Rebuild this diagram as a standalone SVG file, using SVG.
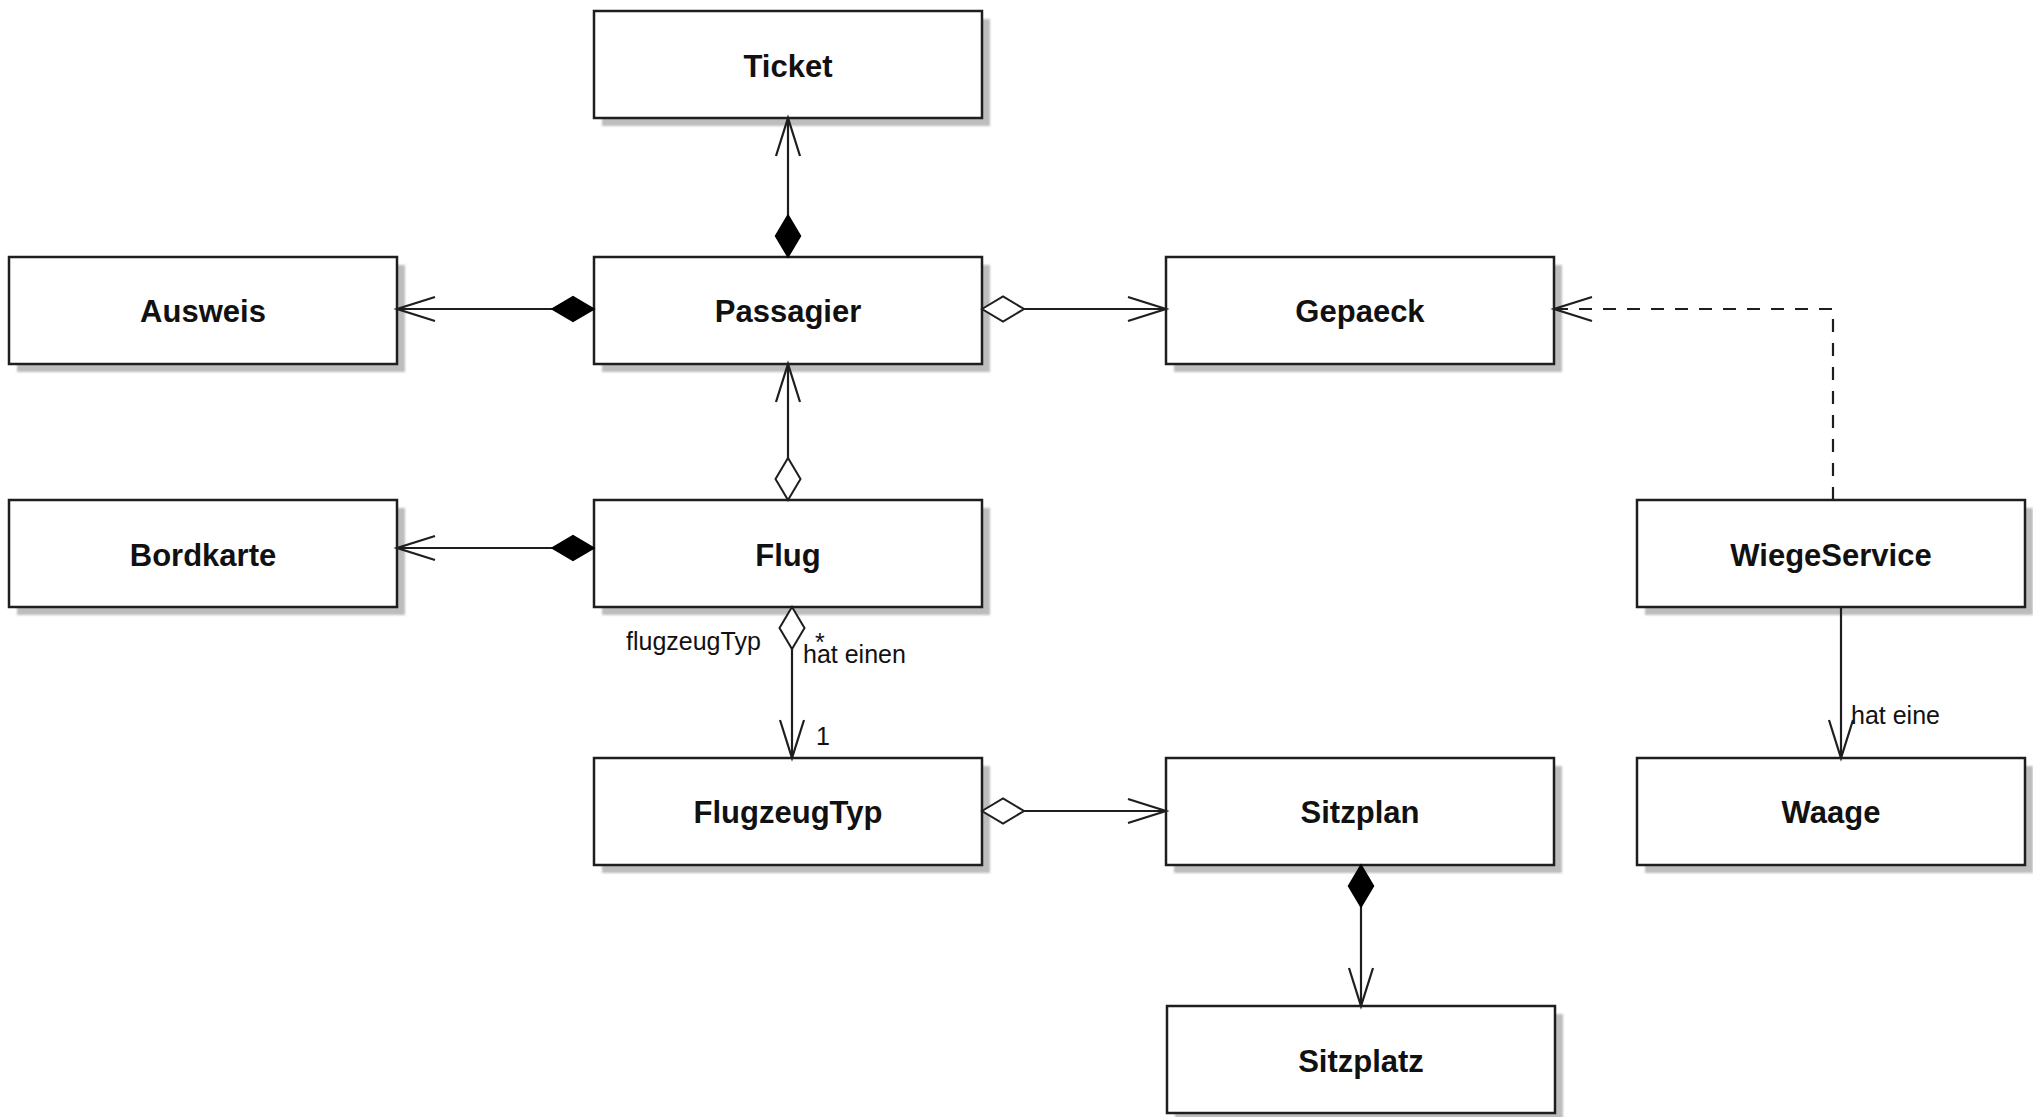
<svg xmlns="http://www.w3.org/2000/svg" width="2033" height="1117" viewBox="0 0 2033 1117">
  <style>
    .shadow { fill: #bdbdbd; filter: url(#soft); }
    .box { fill: #ffffff; stroke: #1e1e1e; stroke-width: 2.5; }
    .name { font-family: "Liberation Sans", Arial, sans-serif; font-size: 31px; font-weight: bold; fill: #111; text-anchor: middle; }
    .edge { fill: none; stroke: #1e1e1e; stroke-width: 2.2; }
    .dashed { stroke-dasharray: 13 11; }
    .lbl { font-family: "Liberation Sans", Arial, sans-serif; font-size: 25px; fill: #111; }
    .assoc-in { marker-end: url(#openArrow); }
    .comp { marker-start: url(#fullDiamond); }
    .aggr { marker-start: url(#hollowDiamond); }
  </style>
  <defs>
    <filter id="soft" x="-5%" y="-5%" width="110%" height="110%">
      <feGaussianBlur stdDeviation="1"/>
    </filter>
    <marker id="openArrow" viewBox="-42 -16 46 32" refX="0" refY="0" markerWidth="46" markerHeight="32" markerUnits="userSpaceOnUse" orient="auto" overflow="visible">
      <path d="M-38,-12 L0,0 L-38,12" fill="none" stroke="#1e1e1e" stroke-width="2.2" stroke-dasharray="none"/>
    </marker>
    <marker id="fullDiamond" viewBox="-2 -15 46 30" refX="0" refY="0" markerWidth="46" markerHeight="30" markerUnits="userSpaceOnUse" orient="auto" overflow="visible">
      <path d="M0,0 L21,-12.5 L42,0 L21,12.5 Z" fill="#000" stroke="#000" stroke-width="1.5"/>
    </marker>
    <marker id="hollowDiamond" viewBox="-2 -15 46 30" refX="0" refY="0" markerWidth="46" markerHeight="30" markerUnits="userSpaceOnUse" orient="auto" overflow="visible">
      <path d="M0,0 L21,-12.5 L42,0 L21,12.5 Z" fill="#fff" stroke="#1e1e1e" stroke-width="2"/>
    </marker>
  </defs>

  <rect width="2033" height="1117" fill="#ffffff"/>

  <!-- classes -->
  <g id="node-ticket">
    <rect class="shadow" x="602" y="19" width="388" height="107"/>
    <rect class="box" x="594" y="11" width="388" height="107"/>
    <text class="name" x="788" y="77">Ticket</text>
  </g>
  <g id="node-passagier">
    <rect class="shadow" x="602" y="265" width="388" height="107"/>
    <rect class="box" x="594" y="257" width="388" height="107"/>
    <text class="name" x="788" y="322">Passagier</text>
  </g>
  <g id="node-ausweis">
    <rect class="shadow" x="17" y="265" width="388" height="107"/>
    <rect class="box" x="9" y="257" width="388" height="107"/>
    <text class="name" x="203" y="322">Ausweis</text>
  </g>
  <g id="node-gepaeck">
    <rect class="shadow" x="1174" y="265" width="388" height="107"/>
    <rect class="box" x="1166" y="257" width="388" height="107"/>
    <text class="name" x="1360" y="322">Gepaeck</text>
  </g>
  <g id="node-bordkarte">
    <rect class="shadow" x="17" y="508" width="388" height="107"/>
    <rect class="box" x="9" y="500" width="388" height="107"/>
    <text class="name" x="203" y="566">Bordkarte</text>
  </g>
  <g id="node-flug">
    <rect class="shadow" x="602" y="508" width="388" height="107"/>
    <rect class="box" x="594" y="500" width="388" height="107"/>
    <text class="name" x="788" y="566">Flug</text>
  </g>
  <g id="node-wiegeservice">
    <rect class="shadow" x="1645" y="508" width="388" height="107"/>
    <rect class="box" x="1637" y="500" width="388" height="107"/>
    <text class="name" x="1831" y="566">WiegeService</text>
  </g>
  <g id="node-flugzeugtyp">
    <rect class="shadow" x="602" y="766" width="388" height="107"/>
    <rect class="box" x="594" y="758" width="388" height="107"/>
    <text class="name" x="788" y="823">FlugzeugTyp</text>
  </g>
  <g id="node-sitzplan">
    <rect class="shadow" x="1174" y="766" width="388" height="107"/>
    <rect class="box" x="1166" y="758" width="388" height="107"/>
    <text class="name" x="1360" y="823">Sitzplan</text>
  </g>
  <g id="node-waage">
    <rect class="shadow" x="1645" y="766" width="388" height="107"/>
    <rect class="box" x="1637" y="758" width="388" height="107"/>
    <text class="name" x="1831" y="823">Waage</text>
  </g>
  <g id="node-sitzplatz">
    <rect class="shadow" x="1175" y="1014" width="388" height="107"/>
    <rect class="box" x="1167" y="1006" width="388" height="107"/>
    <text class="name" x="1361" y="1072">Sitzplatz</text>
  </g>

  <!-- relations -->
  <g id="connectors">
    <path class="edge comp assoc-in" d="M788,257 L788,118"/>
    <path class="edge comp assoc-in" d="M594,309 L397,309"/>
    <path class="edge aggr assoc-in" d="M982,309 L1166,309"/>
    <path class="edge aggr assoc-in" d="M788,500 L788,364"/>
    <path class="edge comp assoc-in" d="M594,548 L397,548"/>
    <path class="edge aggr assoc-in" d="M792,607 L792,758"/>
    <path class="edge aggr assoc-in" d="M982,811 L1166,811"/>
    <path class="edge comp assoc-in" d="M1361,865 L1361,1006"/>
    <path class="edge dashed assoc-in" d="M1833,500 L1833,309 L1554,309"/>
    <path class="edge assoc-in" d="M1841,607 L1841,758"/>

    <text class="lbl" x="626" y="650">flugzeugTyp</text>
    <text class="lbl" x="815" y="651">*</text>
    <text class="lbl" x="803" y="663">hat einen</text>
    <text class="lbl" x="816" y="745">1</text>
    <text class="lbl" x="1851" y="724">hat eine</text>
  </g>
</svg>
